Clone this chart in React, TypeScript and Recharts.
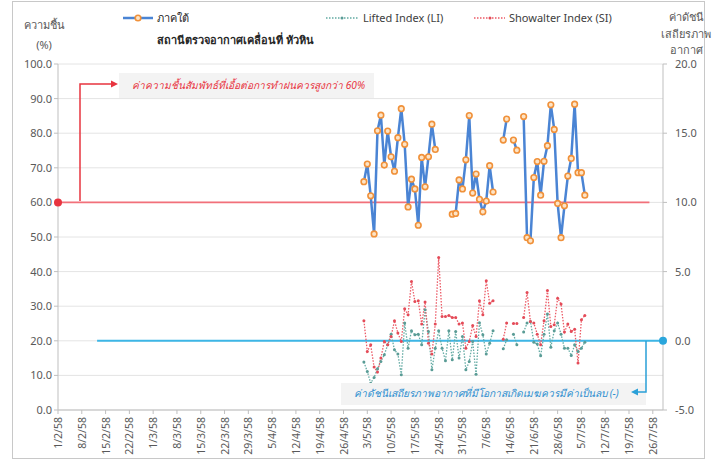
import React from 'react';
import { LineChart, Line, XAxis, YAxis, CartesianGrid, ReferenceLine, ReferenceDot } from 'recharts';

const FONT = "'Noto Sans', 'DejaVu Sans', 'Open Sans', sans-serif";

// x axis: day number counted from 1/2/58, one tick a week; axis runs to 29/7/58
const lastDay = 178;
const tickDays = [0, 7, 14, 21, 28, 35, 42, 49, 56, 63, 70, 77, 84, 91, 98, 105, 112, 119, 126, 133, 140, 147, 154, 161, 168, 175];
const tickLabels = [
  '1/2/58', '8/2/58', '15/2/58', '22/2/58', '1/3/58', '8/3/58', '15/3/58', '22/3/58', '29/3/58',
  '5/4/58', '12/4/58', '19/4/58', '26/4/58', '3/5/58', '10/5/58', '17/5/58', '24/5/58', '31/5/58',
  '7/6/58', '14/6/58', '21/6/58', '28/6/58', '5/7/58', '12/7/58', '19/7/58', '26/7/58',
];

// first observed day = 2/5/58
const firstDay = 90;

// ความชื้นสัมพัทธ์ (%)
const rh = [
  66.0, 71.1, 61.9, 50.9, 80.7, 85.2, 70.8, 80.6, 73.2, 69.0, 78.7, 87.1, 76.8, 58.7, 66.7, 63.9, 53.4, 73.0, 64.5, 73.2, 82.6, 75.3,
  null, null, null, null,
  56.6, 56.8, 66.5, 63.9, 72.3, 85.1, 62.7, 68.2, 60.9, 57.3, 60.4, 70.6, 63.0,
  null, null,
  78.0, 84.1,
  null,
  78.0, 75.1,
  null,
  84.8, 49.8, 48.9, 67.2, 71.8, 62.1, 71.9, 76.4, 88.2, 81.1, 59.7, 49.8, 59.0, 67.6, 72.7, 88.4, 68.6, 68.6, 62.1,
];

// Lifted Index
const li = [
  -1.54, -2.22, -3.06, -2.65, -2.02, -1.49, -1.01, -0.29, 0.48, -0.65, -0.96, -2.46, 1.28, -0.53, 0.72, 0.43, 0.48, -0.29, 2.24, 0.67,
  -2.10, -0.53, 0.72, -0.53, -1.45, 0.72, -1.37, 0.67, -1.25, 0.31, -2.10, -1.49, -0.05, -2.41, 1.3, 0.43, -0.96, -0.17, 0.72,
  null, null,
  -0.58, 0.07,
  null,
  0.48, -0.29,
  null,
  0.63, 1.28, 1.40, -0.10, -0.24, -1.08, 0.48, 1.93, -0.46, 0.72, 1.28, 0.48, -0.53, -0.53, -1.06, -0.29, -0.77, -0.53, -0.10,
];

// Showalter Index
const si = [
  1.45, -0.77, -0.29, -1.90, -2.26, -1.25, -0.05, -0.29, 0.31, 1.45, 0.56, -0.05, 2.31, 1.88, 4.29, 2.84, 2.89, 1.21, 2.80, -0.17,
  -0.96, 1.21, 6.02, 1.76, 1.76, 1.83, 1.68, 1.68, 1.21, 1.28, -0.53, -0.05, 1.10, 0.31, 2.89, 1.88, 4.34, 2.72, 2.89,
  null, null,
  0.12, 1.28,
  null,
  1.25, 1.25,
  null,
  1.68, 3.49, 1.40, 1.28, 0.48, -0.29, 1.45, 3.63, 1.04, 1.16, 3.08, 2.65, 0.63, 1.21, 0.67, 0.84, -1.61, 1.52, 1.83,
];

const data = Array.from({ length: lastDay + 1 }, (_, day) => {
  const i = day - firstDay;
  return {
    day,
    rh: i >= 0 && i < rh.length ? rh[i] : null,
    li: i >= 0 && i < li.length ? li[i] : null,
    si: i >= 0 && i < si.length ? si[i] : null,
  };
});

const DateTick = (props: any) => {
  const { x, y, index } = props;
  return (
    <text
      x={x}
      y={y}
      transform={`rotate(-90 ${x} ${y})`}
      textAnchor="end"
      dx={-1}
      dy={4}
      fontSize={10.5}
      fill="#595959"
      fontFamily={FONT}
    >
      {tickLabels[index]}
    </text>
  );
};

const axisTick = { fontSize: 11, fill: '#595959', fontFamily: FONT };

export default function App() {
  return (
    <div style={{ position: 'absolute', left: 0, top: 0, width: 716, height: 466, background: '#fff', fontFamily: FONT }}>
      <LineChart width={716} height={466} data={data} margin={{ top: 64, right: 8, bottom: 8, left: 12 }}>
        <CartesianGrid yAxisId="rh" vertical={false} stroke="#e4e4e4" />
        <XAxis
          dataKey="day"
          type="number"
          domain={[0, lastDay]}
          ticks={tickDays}
          interval={0}
          height={48}
          tick={<DateTick />}
          tickSize={4}
          stroke="#bfbfbf"
        />
        <YAxis
          yAxisId="rh"
          orientation="left"
          width={46}
          domain={[0, 100]}
          ticks={[0, 10, 20, 30, 40, 50, 60, 70, 80, 90, 100]}
          tickFormatter={(v: number) => v.toFixed(1)}
          tick={axisTick}
          tickSize={4}
          stroke="#bfbfbf"
        />
        <YAxis
          yAxisId="idx"
          orientation="right"
          width={45}
          domain={[-5, 20]}
          ticks={[-5, 0, 5, 10, 15, 20]}
          tickFormatter={(v: number) => v.toFixed(1)}
          tick={axisTick}
          tickSize={4}
          tickMargin={8}
          stroke="#bfbfbf"
        />
        <ReferenceLine yAxisId="rh" segment={[{ x: 0, y: 60 }, { x: 174, y: 60 }]} stroke="#f2707a" strokeWidth={1.6} />
        <ReferenceLine yAxisId="idx" segment={[{ x: 11.5, y: 0 }, { x: lastDay, y: 0 }]} stroke="#3db6e6" strokeWidth={2} />
        <Line
          yAxisId="idx"
          dataKey="li"
          stroke="#62aaa3"
          strokeWidth={1.3}
          strokeDasharray="1.5 1.5"
          dot={{ r: 1.5, fill: '#5a9c96', stroke: 'none' }}
          isAnimationActive={false}
        />
        <Line
          yAxisId="idx"
          dataKey="si"
          stroke="#ec5a66"
          strokeWidth={1.3}
          strokeDasharray="1.5 1.5"
          dot={{ r: 1.5, fill: '#e44b58', stroke: 'none' }}
          isAnimationActive={false}
        />
        <Line
          yAxisId="rh"
          dataKey="rh"
          stroke="#4a84d4"
          strokeWidth={2.5}
          dot={{ r: 2.8, stroke: '#f0913a', strokeWidth: 1.6, fill: '#fde4c6' }}
          isAnimationActive={false}
        />
        <ReferenceDot yAxisId="rh" x={0} y={60} r={4} fill="#e8343f" stroke="none" />
        <ReferenceDot yAxisId="idx" x={lastDay} y={0} r={4} fill="#2aa6dc" stroke="none" />
      </LineChart>

      <svg width={716} height={466} style={{ position: 'absolute', left: 0, top: 0, pointerEvents: 'none' }}>
        <rect x={12.5} y={1.5} width={692} height={457} fill="none" stroke="#c8c8c8" />

        {/* axis titles */}
        <g fontSize={11} fill="#595959" textAnchor="middle" fontFamily={FONT}>
          <text x={44} y={29}>ความชื้น</text>
          <text x={44} y={49}>(%)</text>
          <text x={686} y={21}>ค่าดัชนี</text>
          <text x={686} y={38}>เสถียรภาพ</text>
          <text x={686} y={54}>อากาศ</text>
        </g>

        {/* legend */}
        <line x1={123} y1={18} x2={153} y2={18} stroke="#4a84d4" strokeWidth={2.5} />
        <circle cx={138} cy={18} r={2.8} stroke="#f0913a" strokeWidth={1.6} fill="#fde4c6" />
        <text x={157} y={22} fontSize={11} fill="#262626" fontFamily={FONT}>ภาคใต้</text>
        <text x={157} y={44} fontSize={11} fill="#262626" fontWeight="bold" fontFamily={FONT}>สถานีตรวจอากาศเคลื่อนที่  หัวหิน</text>

        <line x1={326} y1={18} x2={358} y2={18} stroke="#62aaa3" strokeWidth={1.3} strokeDasharray="1.5 1.5" />
        <circle cx={342} cy={18} r={1.5} fill="#5a9c96" />
        <text x={363} y={22} fontSize={11} fill="#404040" fontFamily={FONT}>Lifted Index (LI)</text>

        <line x1={474} y1={18} x2={505} y2={18} stroke="#ec5a66" strokeWidth={1.3} strokeDasharray="1.5 1.5" />
        <circle cx={490} cy={18} r={1.5} fill="#e44b58" />
        <text x={509} y={22} fontSize={11} fill="#404040" fontFamily={FONT}>Showalter Index (SI)</text>

        {/* note for humidity */}
        <rect x={119} y={73} width={255} height={25} fill="#f3f3f3" />
        <polyline points="80,201 80,84 112,84" fill="none" stroke="#e8343f" strokeWidth={1.5} />
        <polygon points="118,84 111,80.5 111,87.5" fill="#e8343f" />
        <text x={132} y={89} fontSize={10.2} fontStyle="italic" fill="#e8343f" fontFamily={FONT}>
          ค่าความชื้นสัมพัทธ์ที่เอื้อต่อการทำฝนควรสูงกว่า  60%
        </text>

        {/* note for stability index */}
        <rect x={341} y={383} width={305} height={22} fill="#f3f3f3" />
        <polyline points="646,341 646,392 638,392" fill="none" stroke="#2aa0d8" strokeWidth={1.5} />
        <polygon points="631,392 638,388.5 638,395.5" fill="#2aa0d8" />
        <text x={354} y={397} fontSize={10.2} fontStyle="italic" fill="#2e8fd0" fontFamily={FONT}>
          ค่าดัชนีเสถียรภาพอากาศที่มีโอกาสเกิดเมฆควรมีค่าเป็นลบ  (-)
        </text>
      </svg>
    </div>
  );
}
